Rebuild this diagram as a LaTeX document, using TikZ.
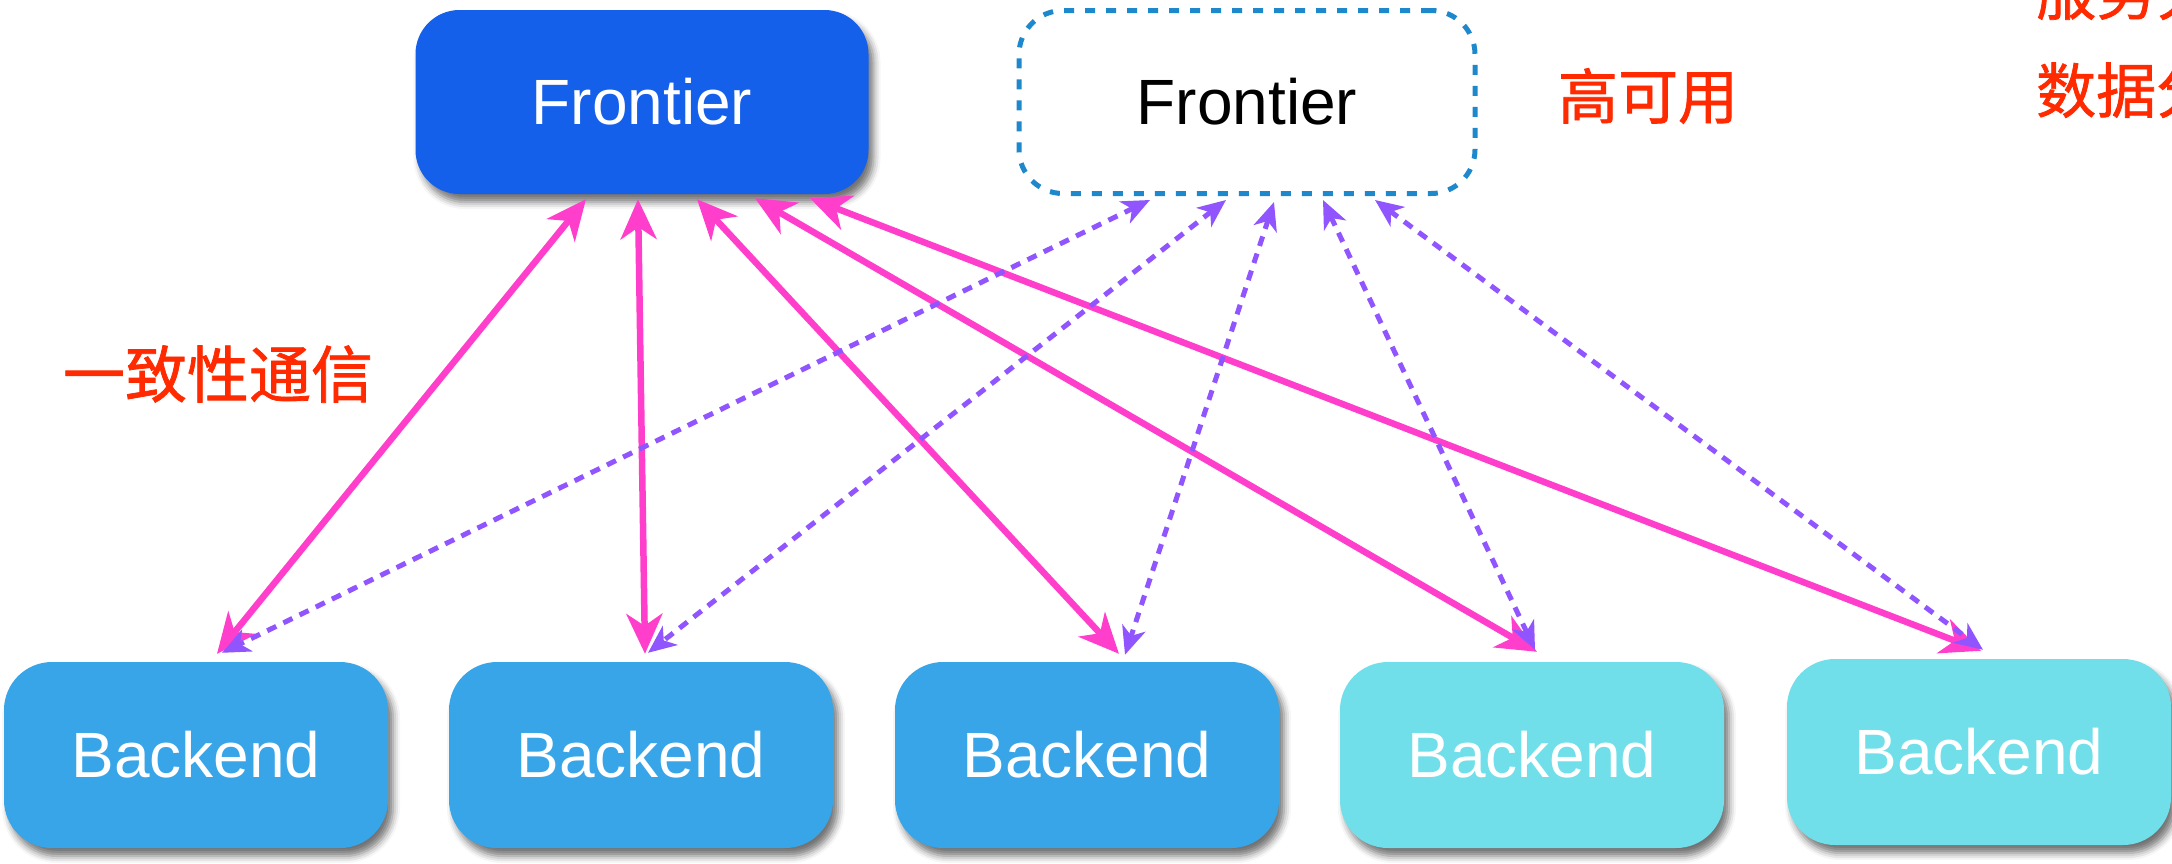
\documentclass[tikz,border=0pt]{standalone}
\usepackage{fontspec}
\setmainfont{Liberation Sans}
\newfontfamily\cjk[FakeBold=1.2]{Noto Sans CJK SC}
\usetikzlibrary{arrows.meta,shadows.blur,calc}
\definecolor{fblue}{HTML}{1560EB}
\definecolor{bblue}{HTML}{38A5E8}
\definecolor{bcyan}{HTML}{70DFEA}
\definecolor{dashblue}{HTML}{1E88CC}
\definecolor{pinkarr}{HTML}{FF3FCB}
\definecolor{purparr}{HTML}{9055FF}
\definecolor{redtxt}{HTML}{FF2A00}
\begin{document}
\begin{tikzpicture}[x=1pt,y=-1pt,
  boxbase/.style={rounded corners=48pt, inner sep=0pt, minimum width=384pt, minimum height=186pt,
     font=\fontsize{64}{70}\selectfont, text=white,
     blur shadow={shadow xshift=5pt, shadow yshift=-8pt, shadow blur radius=7pt, shadow opacity=55}},
  frontbox/.style={boxbase, fill=fblue, minimum width=453pt, minimum height=184pt, rounded corners=44pt},
  backA/.style={boxbase, fill=bblue},
  backB/.style={boxbase, fill=bcyan},
  dashbox/.style={rounded corners=44pt, inner sep=0pt, minimum width=456pt, minimum height=183pt,
     draw=dashblue, line width=5pt, dash pattern=on 10pt off 11pt, text=black,
     font=\fontsize{64}{70}\selectfont},
  pinkline/.style={draw=pinkarr, line width=6.5pt,
     {Stealth[length=40pt,width=36pt,inset=12pt]}-{Stealth[length=40pt,width=36pt,inset=12pt]}},
  purpline/.style={draw=purparr, line width=5pt, dash pattern=on 10pt off 8pt,
     {Stealth[length=28pt,width=24pt,inset=8pt]}-{Stealth[length=28pt,width=24pt,inset=8pt]}},
  redlabel/.style={text=redtxt, font=\cjk\fontsize{60}{66}\selectfont, inner sep=0pt},
]
\useasboundingbox (0,0) rectangle (2172,863);

\node[frontbox] (F) at (642,102) {Frontier};
\node[dashbox] (D) at (1247,102) {Frontier};

\node[backA] (B1) at (196,755) {Backend};
\node[backA] (B2) at (641,755) {Backend};
\node[backA] (B3) at (1087,755) {Backend};
\node[backB] (B4) at (1532,755) {Backend};
\node[backB] (B5) at (1979,752) {Backend};

\node[redlabel] (ha) at (1648,96) {高可用};
\node[redlabel, font=\cjk\fontsize{62}{68}\selectfont] (yz) at (218,374) {一致性通信};
\node[redlabel, anchor=west] (sv) at (2036,-8) {服务分离};
\node[redlabel, anchor=west] (db) at (2036,90) {数据分离};

% solid pink connections
\draw[pinkline] ([shift={(-56,5)}]F.south) -- ([shift={(21,-8)}]B1.north);
\draw[pinkline] ([shift={(-4,5)}]F.south) -- ([shift={(4,-8)}]B2.north);
\draw[pinkline] ([shift={(55,5)}]F.south) -- ([shift={(32,-8)}]B3.north);
\draw[pinkline] ([shift={(113,4)}]F.south) -- ([shift={(5,-10)}]B4.north);
\draw[pinkline] ([shift={(168,4)}]F.south) -- ([shift={(2,-8)}]B5.north);

% dashed purple connections
\draw[purpline] ([shift={(-97,4)}]D.south) -- ([shift={(26,-9)}]B1.north);
\draw[purpline] ([shift={(-21,4)}]D.south) -- ([shift={(7,-9)}]B2.north);
\draw[purpline] ([shift={(27,6)}]D.south) -- ([shift={(38,-7)}]B3.north);
\draw[purpline] ([shift={(76,4)}]D.south) -- ([shift={(3,-12)}]B4.north);
\draw[purpline] ([shift={(128,4)}]D.south) -- ([shift={(4,-9)}]B5.north);
\end{tikzpicture}
\end{document}
